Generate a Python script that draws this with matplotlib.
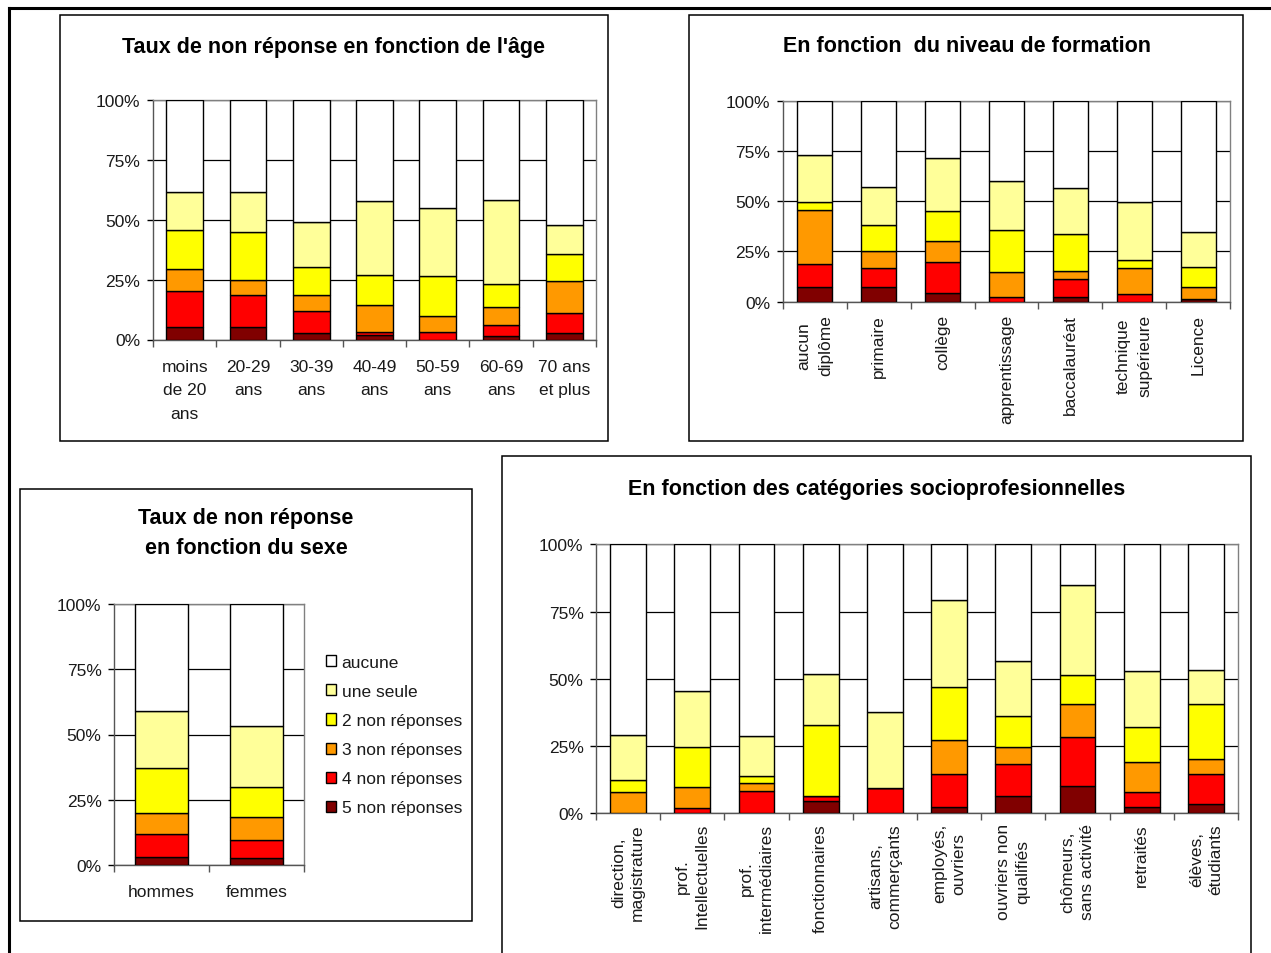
import matplotlib
matplotlib.use("Agg")
import matplotlib.pyplot as plt
from matplotlib.patches import Rectangle, Patch
from matplotlib.lines import Line2D
from matplotlib.ticker import FixedLocator, FuncFormatter, NullFormatter

plt.rcParams['font.family'] = ['Liberation Sans', 'DejaVu Sans']

# ---------------- data (percent) ----------------
series_labels = ["5 non réponses", "4 non réponses", "3 non réponses",
                 "2 non réponses", "une seule", "aucune"]
series_colors = ["#800000", "#FF0000", "#FF9900", "#FFFF00", "#FFFF99", "#FFFFFF"]

age_title = "Taux de non réponse en fonction de l'âge"
age_categories = ["moins\nde 20\nans", "20-29\nans", "30-39\nans", "40-49\nans",
                  "50-59\nans", "60-69\nans", "70 ans\net plus"]
# rows: 5 NR, 4 NR, 3 NR, 2 NR, une seule, aucune
age_values = [
    [5.3, 5.3, 2.6, 1.7, 0.0, 1.4, 2.6],
    [15.1, 13.2, 9.1, 1.5, 3.2, 4.7, 8.6],
    [8.9, 6.3, 6.8, 11.3, 6.7, 7.3, 13.1],
    [16.4, 20.0, 11.9, 12.6, 16.6, 9.6, 11.4],
    [15.7, 16.8, 18.7, 30.6, 28.5, 35.4, 12.3],
    [38.6, 38.4, 50.9, 42.3, 45.0, 41.6, 52.0],
]

form_title = "En fonction  du niveau de formation"
form_categories = ["aucun\ndiplôme", "primaire", "collège", "apprentissage",
                   "baccalauréat", "technique\nsupérieure", "Licence"]
form_values = [
    [7.3, 7.3, 4.3, 0.0, 2.2, 0.0, 1.2],
    [11.4, 9.4, 15.3, 2.5, 9.1, 4.0, 0.3],
    [26.9, 8.5, 10.4, 12.3, 4.0, 12.7, 5.6],
    [4.2, 13.1, 14.9, 20.9, 18.4, 4.0, 10.3],
    [23.0, 18.9, 26.6, 24.3, 23.0, 29.1, 17.4],
    [27.2, 42.8, 28.5, 40.0, 43.3, 50.2, 65.2],
]

sex_title = "Taux de non réponse\nen fonction du sexe"
sex_categories = ["hommes", "femmes"]
sex_values = [
    [3.2, 2.7],
    [8.8, 6.9],
    [8.1, 8.7],
    [17.2, 11.7],
    [21.7, 23.4],
    [41.0, 46.6],
]

csp_title = "En fonction des catégories socioprofesionnelles"
csp_categories = ["direction,\nmagistrature", "prof.\nIntellectuelles",
                  "prof.\nintermédiaires", "fonctionnaires", "artisans,\ncommerçants",
                  "employés,\nouvriers", "ouvriers non\nqualifiés",
                  "chômeurs,\nsans activité", "retraités", "élèves,\nétudiants"]
csp_values = [
    [0.0, 0.0, 0.0, 4.5, 0.0, 2.5, 6.4, 10.0, 2.5, 3.5],
    [0.0, 1.9, 8.4, 1.9, 9.4, 12.1, 11.8, 18.3, 5.6, 11.2],
    [7.9, 8.0, 3.0, 0.2, 0.0, 12.5, 6.6, 12.5, 11.0, 5.5],
    [4.6, 14.8, 2.4, 26.1, 0.0, 19.7, 11.4, 10.6, 13.1, 20.6],
    [16.6, 20.7, 14.9, 19.2, 28.3, 32.4, 20.3, 33.4, 20.8, 12.6],
    [70.9, 54.6, 71.3, 48.1, 62.3, 20.8, 43.5, 15.2, 47.0, 46.6],
]

y_ticks = [0, 25, 50, 75, 100]

# ---------------- figure ----------------
W, H = 1271, 954
fig = plt.figure(figsize=(W / 100, H / 100), dpi=100)
fig.patch.set_facecolor("white")


def rect(x0, y0, x1, y1):
    return [x0 / W, 1 - y1 / H, (x1 - x0) / W, (y1 - y0) / H]


def box(x0, y0, x1, y1):
    fig.patches.append(Rectangle((x0 / W, 1 - y1 / H), (x1 - x0) / W, (y1 - y0) / H,
                                 transform=fig.transFigure, fill=False,
                                 edgecolor="black", linewidth=1.1, zorder=0))


def stacked(ax, cats, values, width, rotate=False, labelsize=12.5, pad=6,
            linespacing=1.6):
    n = len(cats)
    xs = list(range(n))
    bottom = [0.0] * n
    for vals, col in zip(values, series_colors):
        ax.bar(xs, vals, width=width, bottom=bottom, color=col,
               edgecolor="black", linewidth=1.0, zorder=3)
        bottom = [b + v for b, v in zip(bottom, vals)]
    ax.set_xlim(-0.5, n - 0.5)
    ax.set_ylim(0, 100)
    ax.set_yticks(y_ticks)
    ax.yaxis.set_major_formatter(FuncFormatter(lambda v, p: f"{int(v)}%"))
    ax.tick_params(axis="y", labelsize=12.5, length=4, width=1, pad=5, colors="black")
    ax.set_xticks(xs)
    ax.set_xticklabels(cats, rotation=90 if rotate else 0,
                       multialignment="center", fontsize=labelsize,
                       linespacing=linespacing)
    ax.tick_params(axis="x", which="major", length=0, pad=pad)
    ax.xaxis.set_minor_locator(FixedLocator([i - 0.5 for i in range(n + 1)]))
    ax.xaxis.set_minor_formatter(NullFormatter())
    ax.tick_params(axis="x", which="minor", length=5, width=1, color="#555555")
    ax.grid(axis="y", color="black", linewidth=0.9, zorder=0)
    ax.set_axisbelow(True)
    for s in ["top", "right"]:
        ax.spines[s].set_color("#808080")
        ax.spines[s].set_linewidth(1.0)
    for s in ["left", "bottom"]:
        ax.spines[s].set_color("#555555")
        ax.spines[s].set_linewidth(1.0)
    for lab in ax.get_yticklabels() + ax.get_xticklabels():
        lab.set_color("#1a1a1a")


# outer frame
fig.lines.append(Line2D([9 / W, 1.0], [1 - 9 / H, 1 - 9 / H], transform=fig.transFigure,
                        color="black", linewidth=2.2))
fig.lines.append(Line2D([9 / W, 9 / W], [1 - 9 / H, 0.0], transform=fig.transFigure,
                        color="black", linewidth=2.2))

# panel boxes
box(60, 16, 608, 442)
box(689, 16, 1243, 442)
box(20, 490, 472, 922)
box(502, 457, 1251, 980)

title_kw = dict(fontsize=15.5, fontweight="bold", ha="center", va="center",
                color="black")

# age chart
ax1 = fig.add_axes(rect(153, 101, 596, 340.5))
stacked(ax1, age_categories, age_values, 0.58, pad=14, linespacing=1.7)
fig.text(334 / W, 1 - 47 / H, age_title, **title_kw)

# formation chart
ax2 = fig.add_axes(rect(783, 101.5, 1230, 302.7))
stacked(ax2, form_categories, form_values, 0.55, rotate=True, pad=9, linespacing=1.6)
fig.text(967 / W, 1 - 46.5 / H, form_title, **title_kw)

# sex chart
ax3 = fig.add_axes(rect(114, 605, 304, 866))
stacked(ax3, sex_categories, sex_values, 0.56, pad=14)
fig.text(246 / W, 1 - 533.5 / H, sex_title, linespacing=1.55, **title_kw)

handles = [Patch(facecolor=c, edgecolor="black", linewidth=1.0)
           for c in series_colors[::-1]]
fig.legend(handles, series_labels[::-1], loc="upper left",
           bbox_to_anchor=(326 / W, 1 - 656 / H), frameon=False,
           fontsize=12.5, handlelength=0.6, handleheight=0.6,
           handletextpad=0.3, labelspacing=0.81, borderaxespad=0,
           borderpad=0, labelcolor="#1a1a1a")

# CSP chart
ax4 = fig.add_axes(rect(596, 545.3, 1238, 814.3))
stacked(ax4, csp_categories, csp_values, 0.56, rotate=True, pad=7, linespacing=1.35)
fig.text(876.5 / W, 1 - 490 / H, csp_title, **title_kw)

fig.savefig("out.png", dpi=100, facecolor="white")
